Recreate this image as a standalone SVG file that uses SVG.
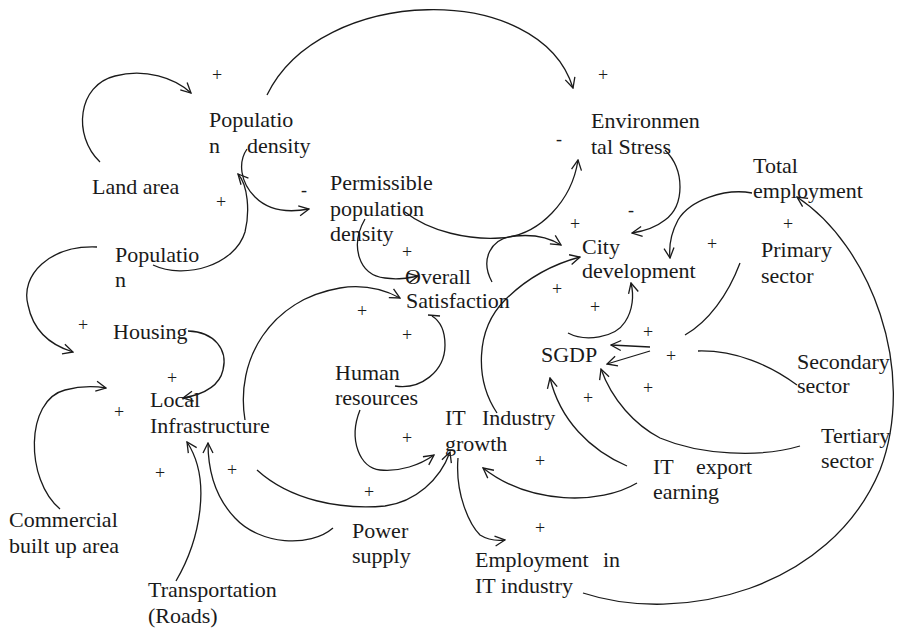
<svg xmlns="http://www.w3.org/2000/svg" width="900" height="629" viewBox="0 0 900 629">
<defs>
<style>
text{font-family:"Liberation Serif","Times New Roman",serif;fill:#1a1a1a}
.n{font-size:22px}
.s{font-size:18px;text-anchor:middle}
.c{fill:none;stroke:#1a1a1a;stroke-width:1.3}
</style>
<marker id="arr" viewBox="0 0 12 12" refX="11" refY="6" markerWidth="12" markerHeight="12" markerUnits="userSpaceOnUse" orient="auto">
<path d="M1,1 L11,6 L1,11" fill="none" stroke="#1a1a1a" stroke-width="1.3"/>
</marker>
</defs>
<rect width="900" height="629" fill="#fff"/>
<g id="connectors">
<path class="c" marker-end="url(#arr)" d="M100,162 C72,135 78,85 115,76 C145,68 175,78 191,93"/>
<path class="c" marker-end="url(#arr)" d="M267,95 C320,-15 540,-20 573,88"/>
<path class="c" marker-end="url(#arr)" d="M247,149 C238,162 240,182 255,197 C268,210 288,213 309,209"/>
<path class="c" marker-end="url(#arr)" d="M153,265 C185,280 235,265 245,232 C250,212 248,185 238,174"/>
<path class="c" marker-end="url(#arr)" d="M97,247 C50,245 20,275 28,305 C33,330 50,345 73,352"/>
<path class="c" marker-end="url(#arr)" d="M188,331 C215,332 228,350 223,370 C219,388 200,395 183,398"/>
<path class="c" marker-end="url(#arr)" d="M60,509 C25,480 25,400 65,390 C80,386 95,386 106,388"/>
<path class="c" marker-end="url(#arr)" d="M176,581 C200,540 212,480 187,442"/>
<path class="c" marker-end="url(#arr)" d="M333,528 C310,548 260,545 235,518 C215,497 208,470 208,443"/>
<path class="c" marker-end="url(#arr)" d="M257,470 C290,500 340,510 385,506 C415,502 440,480 450,452"/>
<path class="c" marker-end="url(#arr)" d="M360,410 C348,440 360,468 380,470 C400,472 420,465 434,455"/>
<path class="c" marker-end="url(#arr)" d="M245,420 C235,360 270,300 340,288 C365,284 385,290 400,298"/>
<path class="c" marker-end="url(#arr)" d="M365,219 C350,245 358,275 385,278 C398,280 408,278 418,276"/>
<path class="c" marker-end="url(#arr)" d="M405,212 C430,232 470,240 500,238 C540,236 572,200 578,160"/>
<path class="c" marker-end="url(#arr)" d="M492,282 C480,260 490,238 515,236 C535,234 550,238 561,245"/>
<path class="c" marker-end="url(#arr)" d="M497,413 C475,380 475,330 505,300 C525,280 550,265 580,257"/>
<path class="c" marker-end="url(#arr)" d="M568,333 C585,342 615,338 625,322 C633,310 634,295 631,283"/>
<path class="c" marker-end="url(#arr)" d="M665,150 C685,170 685,205 665,220 C655,228 645,231 632,233"/>
<path class="c" marker-end="url(#arr)" d="M752,193 C725,188 690,200 678,220 C670,235 669,248 670,258"/>
<path class="c" d="M740,263 C728,295 708,322 685,335"/>
<path class="c" marker-end="url(#arr)" d="M650,347 L611,345"/>
<path class="c" d="M797,385 C770,365 735,350 698,351"/>
<path class="c" marker-end="url(#arr)" d="M650,351 L607,364"/>
<path class="c" marker-end="url(#arr)" d="M800,446 C760,458 700,455 660,438 C635,425 612,400 601,369"/>
<path class="c" marker-end="url(#arr)" d="M627,466 C590,450 560,420 550,378"/>
<path class="c" marker-end="url(#arr)" d="M637,483 C600,505 530,505 483,468"/>
<path class="c" marker-end="url(#arr)" d="M458,458 C455,495 470,525 480,535 C488,540 496,541 505,540"/>
<path class="c" marker-end="url(#arr)" d="M583,593 C680,625 830,590 880,470 C918,370 870,245 797,197"/>
<path class="c" d="M395,386 C420,390 445,372 445,345 C445,330 440,321 432,316"/>
<path class="c" d="M428,315 L440,316"/>
</g>
<g id="signs">
<text class="s" x="217" y="81">+</text>
<text class="s" x="603" y="81">+</text>
<text class="s" x="304" y="196">-</text>
<text class="s" x="221" y="208">+</text>
<text class="s" x="559" y="145">-</text>
<text class="s" x="407" y="258">+</text>
<text class="s" x="362" y="317">+</text>
<text class="s" x="575" y="230">+</text>
<text class="s" x="631" y="216">-</text>
<text class="s" x="788" y="230">+</text>
<text class="s" x="712" y="250">+</text>
<text class="s" x="557" y="295">+</text>
<text class="s" x="595" y="313">+</text>
<text class="s" x="83" y="331">+</text>
<text class="s" x="172" y="384">+</text>
<text class="s" x="119" y="418">+</text>
<text class="s" x="160" y="479">+</text>
<text class="s" x="232" y="476">+</text>
<text class="s" x="407" y="341">+</text>
<text class="s" x="407" y="444">+</text>
<text class="s" x="369" y="498">+</text>
<text class="s" x="648" y="338">+</text>
<text class="s" x="671" y="362">+</text>
<text class="s" x="648" y="394">+</text>
<text class="s" x="588" y="404">+</text>
<text class="s" x="540" y="467">+</text>
<text class="s" x="540" y="534">+</text>
</g>
<g id="population_density"><text class="n" x="209" y="127">Populatio</text><text class="n" x="209" y="153">n</text><text class="n" x="247" y="153">density</text></g>
<g id="land_area"><text class="n" x="92" y="194">Land area</text></g>
<g id="permissible_population_density"><text class="n" x="330" y="190">Permissible</text><text class="n" x="330" y="216">population</text><text class="n" x="330" y="241">density</text></g>
<g id="population"><text class="n" x="115" y="262">Populatio</text><text class="n" x="115" y="287">n</text></g>
<g id="environmental_stress"><text class="n" x="591" y="128">Environmen</text><text class="n" x="591" y="154">tal Stress</text></g>
<g id="total_employment"><text class="n" x="753" y="173">Total</text><text class="n" x="753" y="198">employment</text></g>
<g id="city_development"><text class="n" x="582" y="254">City</text><text class="n" x="582" y="278">development</text></g>
<g id="primary_sector"><text class="n" x="761" y="257">Primary</text><text class="n" x="761" y="283">sector</text></g>
<g id="overall_satisfaction"><text class="n" x="405" y="284">Overall</text><text class="n" x="406" y="308">Satisfaction</text></g>
<g id="housing"><text class="n" x="113" y="339">Housing</text></g>
<g id="local_infrastructure"><text class="n" x="150" y="407">Local</text><text class="n" x="150" y="433">Infrastructure</text></g>
<g id="human_resources"><text class="n" x="335" y="380">Human</text><text class="n" x="335" y="405">resources</text></g>
<g id="commercial_built_up_area"><text class="n" x="9" y="527">Commercial</text><text class="n" x="9" y="553">built up area</text></g>
<g id="power_supply"><text class="n" x="352" y="538">Power</text><text class="n" x="352" y="563">supply</text></g>
<g id="transportation"><text class="n" x="148" y="597">Transportation</text><text class="n" x="148" y="623">(Roads)</text></g>
<g id="it_industry_growth"><text class="n" x="445" y="425">IT</text><text class="n" x="482" y="425">Industry</text><text class="n" x="445" y="451">growth</text></g>
<g id="sgdp"><text class="n" x="541" y="362">SGDP</text></g>
<g id="secondary_sector"><text class="n" x="797" y="369">Secondary</text><text class="n" x="797" y="393">sector</text></g>
<g id="tertiary_sector"><text class="n" x="821" y="443">Tertiary</text><text class="n" x="821" y="468">sector</text></g>
<g id="it_export_earning"><text class="n" x="653" y="474">IT</text><text class="n" x="696" y="474">export</text><text class="n" x="653" y="499">earning</text></g>
<g id="employment_in_it_industry"><text class="n" x="475" y="567">Employment</text><text class="n" x="603" y="567">in</text><text class="n" x="475" y="593">IT industry</text></g>
</svg>
